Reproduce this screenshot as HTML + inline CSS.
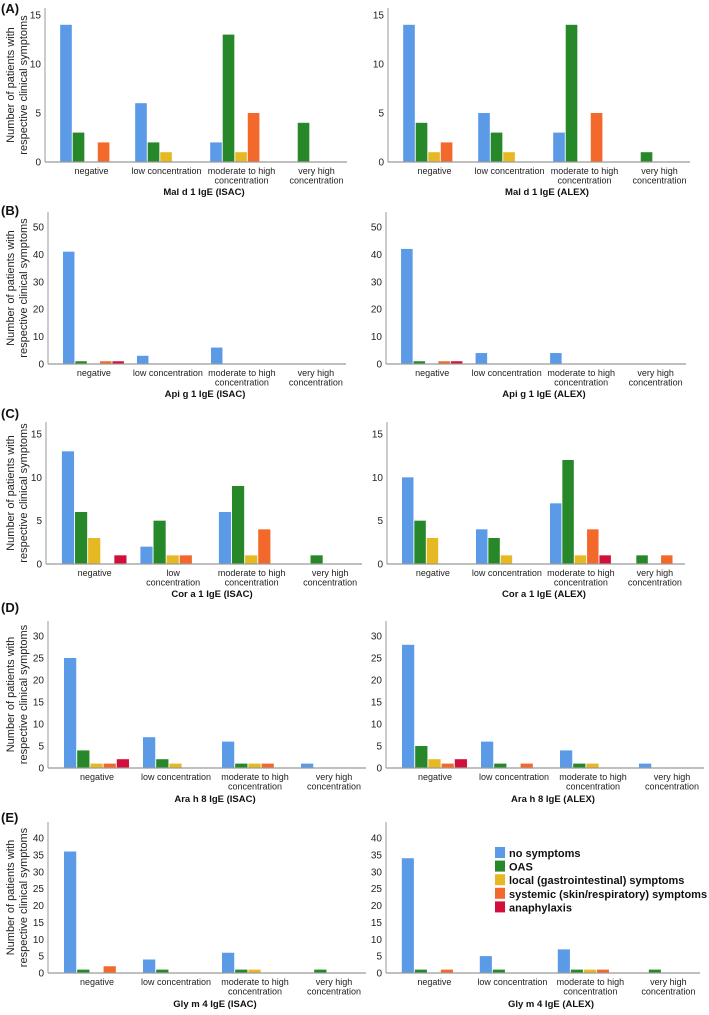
<!DOCTYPE html>
<html><head><meta charset="utf-8"><style>
html,body{margin:0;padding:0;background:#fff;}
svg{display:block;font-family:"Liberation Sans",Arial,sans-serif;}
</style></head><body>
<svg id="chart" width="709" height="1015" viewBox="0 0 709 1015" xmlns="http://www.w3.org/2000/svg"></svg>
<script>
const categories = ["negative","low concentration","moderate to high concentration","very high concentration"];
const seriesNames = ["no symptoms","OAS","local (gastrointestinal) symptoms","systemic (skin/respiratory) symptoms","anaphylaxis"];
const colors = ["#5a9ae6","#27882a","#e6b923","#f3692b","#d20f3b"];
const aIsac = [[14,3,0,2,0],[6,2,1,0,0],[2,13,1,5,0],[0,4,0,0,0]];
const aAlex = [[14,4,1,2,0],[5,3,1,0,0],[3,14,0,5,0],[0,1,0,0,0]];
const bIsac = [[41,1,0,1,1],[3,0,0,0,0],[6,0,0,0,0],[0,0,0,0,0]];
const bAlex = [[42,1,0,1,1],[4,0,0,0,0],[4,0,0,0,0],[0,0,0,0,0]];
const cIsac = [[13,6,3,0,1],[2,5,1,1,0],[6,9,1,4,0],[0,1,0,0,0]];
const cAlex = [[10,5,3,0,0],[4,3,1,0,0],[7,12,1,4,1],[0,1,0,1,0]];
const dIsac = [[25,4,1,1,2],[7,2,1,0,0],[6,1,1,1,0],[1,0,0,0,0]];
const dAlex = [[28,5,2,1,2],[6,1,0,1,0],[4,1,1,0,0],[1,0,0,0,0]];
const eIsac = [[36,1,0,2,0],[4,1,0,0,0],[6,1,1,0,0],[0,1,0,0,0]];
const eAlex = [[34,1,0,1,0],[5,1,0,0,0],[7,1,1,1,0],[0,1,0,0,0]];
const ticksA = [0,5,10,15], ticksB = [0,10,20,30,40,50], ticksC = [0,5,10,15], ticksD = [0,5,10,15,20,25,30], ticksE = [0,5,10,15,20,25,30,35,40];
const titles = ["Mal d 1 IgE (ISAC)","Mal d 1 IgE (ALEX)","Api g 1 IgE (ISAC)","Api g 1 IgE (ALEX)","Cor a 1 IgE (ISAC)","Cor a 1 IgE (ALEX)","Ara h 8 IgE (ISAC)","Ara h 8 IgE (ALEX)","Gly m 4 IgE (ISAC)","Gly m 4 IgE (ALEX)"];
const panelLetters = ["(A)","(B)","(C)","(D)","(E)"];

const svg = document.getElementById('chart');
const NS = "http://www.w3.org/2000/svg";
function mk(tag, attrs, parent){const e=document.createElementNS(NS,tag);for(const k in attrs)e.setAttribute(k,attrs[k]);(parent||svg).appendChild(e);return e;}

const rows = [
 {topTick:15, yTop:15, base:162, axTop:8, title:195, letterY:13, ticks:ticksA, data:[aIsac,aAlex], ax:[45,388], band:[75,75], twoLineLow:false},
 {topTick:50, yTop:227, base:364, axTop:212, title:397, letterY:215, ticks:ticksB, data:[bIsac,bAlex], ax:[48,386], band:[74,74.5], twoLineLow:false},
 {topTick:15, yTop:434, base:564, axTop:422, title:597, letterY:418, ticks:ticksC, data:[cIsac,cAlex], ax:[46,387], band:[78.5,74], twoLineLow:[true,false]},
 {topTick:30, yTop:636, base:768, axTop:621, title:802, letterY:612, ticks:ticksD, data:[dIsac,dAlex], ax:[48,386], band:[79,79], twoLineLow:false},
 {topTick:40, yTop:838, base:973, axTop:822, title:1007, letterY:822, ticks:ticksE, data:[eIsac,eAlex], ax:[48,386], band:[79,78], twoLineLow:false}
];

rows.forEach((r,ri)=>{
  const lt = mk('text',{x:1,y:r.letterY,'font-size':13,'font-weight':'bold',fill:'#111'});
  lt.textContent = panelLetters[ri];
  
  
  const mid = (r.axTop+r.base)/2;
  const yl = mk('text',{transform:`translate(14,${mid}) rotate(-90)`,'text-anchor':'middle','font-size':11,fill:'#222'});
  
  
  const t1 = mk('tspan',{x:0,dy:0},yl); t1.textContent='Number of patients with';
  const t2 = mk('tspan',{x:0,dy:13},yl); t2.textContent='respective clinical symptoms';

  [0,1].forEach(side=>{
    const g = mk('g',{});
    
    
    const ax = r.ax[side], band = r.band[side];
    const right = ax + band*4 + 2;
    const scale = (r.base - r.yTop)/r.topTick;
    const y = v => r.base - v*scale;
    const cx = i => ax + (i+0.62)*band;
    const bw = band*0.155, gap = band*0.012;
    const yaxis = mk('line',{x1:ax,y1:r.axTop,x2:ax,y2:r.base,stroke:'#9a9a9a','stroke-width':1},g);
    
    
    r.ticks.forEach(tv=>{
      const tt = mk('text',{x:ax-4,y:y(tv)+3.5,'text-anchor':'end','font-size':10,fill:'#222'},g);
      tt.textContent = tv;
      
      
    });
    r.data[side].forEach((vals,ci)=>{
      const c = cx(ci);
      vals.forEach((v,si)=>{
        if(v<=0) return;
        const x0 = c - 2.5*(bw+gap) + si*(bw+gap);
        const rect = mk('rect',{x:x0,y:y(v),width:bw,height:v*scale,fill:colors[si]},g);
        
        
      });
      let lines;
      const two = Array.isArray(r.twoLineLow)? r.twoLineLow[side] : r.twoLineLow;
      if(ci===0) lines=['negative'];
      else if(ci===1) lines = two? ['low','concentration'] : ['low concentration'];
      else if(ci===2) lines=['moderate to high','concentration'];
      else lines=['very high','concentration'];
      const ct = mk('text',{x:c,y:r.base+12,'text-anchor':'middle','font-size':9,fill:'#222'},g);
      
      
      lines.forEach((ln,li)=>{const sp=mk('tspan',{x:c,dy:li?9.5:0},ct);sp.textContent=ln;});
    });
    const xaxis = mk('line',{x1:ax,y1:r.base,x2:right,y2:r.base,stroke:'#9a9a9a','stroke-width':1.2},g);
    
    
    const ti = mk('text',{x:(ax+right)/2+8,y:r.title,'text-anchor':'middle','font-size':9.5,'font-weight':'bold',fill:'#111'},g);
    ti.textContent = titles[ri*2+side];
    
    
  });
});

const lg = mk('g',{});


seriesNames.forEach((n,i)=>{
  const yy = 847 + i*13.6;
  const sw = mk('rect',{x:495,y:yy,width:10,height:11,fill:colors[i]},lg);
  
  
  const tx = mk('text',{x:509,y:yy+10,'font-size':11,'font-weight':'bold',fill:'#111'},lg);
  tx.textContent = n;
  
  
});
</script>
</body></html>
